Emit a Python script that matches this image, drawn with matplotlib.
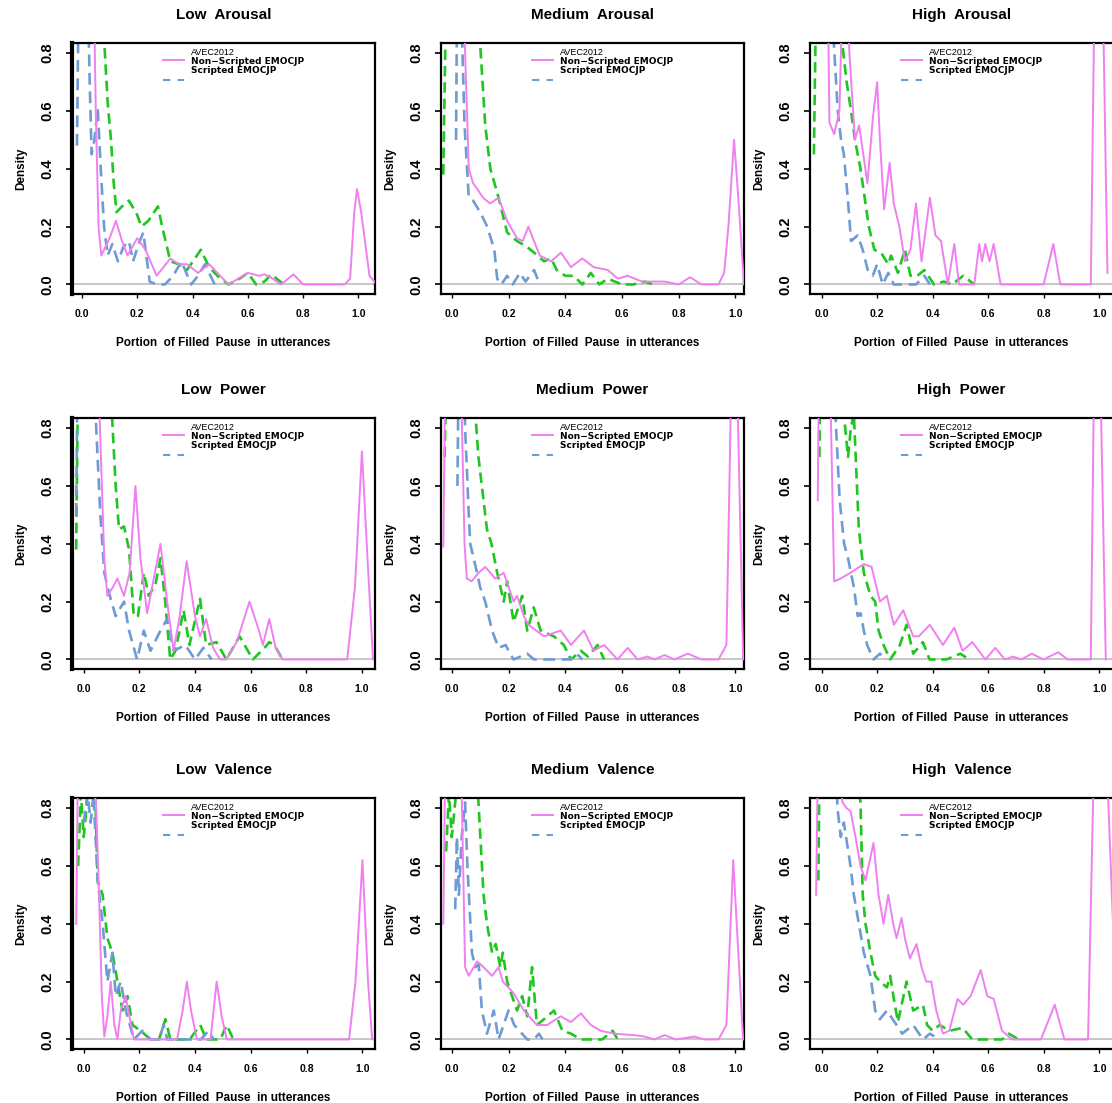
import matplotlib
matplotlib.use('Agg')
import matplotlib.pyplot as plt

plt.rcParams['font.family'] = ['Liberation Sans', 'DejaVu Sans']

titles = ['Low  Arousal', 'Medium  Arousal', 'High  Arousal',
          'Low  Power', 'Medium  Power', 'High  Power',
          'Low  Valence', 'Medium  Valence', 'High  Valence']
series_names = ['AVEC2012', 'Non\u2212Scripted EMOCJP', 'Scripted EMOCJP']
x_label = 'Portion  of Filled  Pause  in utterances'
y_ticks = [0.0, 0.2, 0.4, 0.6, 0.8]
x_ticks = [0.0, 0.2, 0.4, 0.6, 0.8, 1.0]

# ---- Low Arousal
la_avec_x = [-0.04, 0.0, 0.03, 0.04, 0.05, 0.06, 0.07, 0.1, 0.123, 0.145, 0.165, 0.2, 0.23, 0.27, 0.32, 0.35, 0.38,
             0.42, 0.46, 0.5, 0.53, 0.6, 0.64, 0.66, 0.69, 0.72, 0.765, 0.8, 0.9, 0.95, 0.97, 0.985, 0.995, 1.01,
             1.04, 1.066]
la_avec_y = [3.0, 2.6, 1.6, 1.2, 0.6, 0.2, 0.1, 0.16, 0.22, 0.15, 0.1, 0.16, 0.12, 0.03, 0.09, 0.07, 0.07, 0.04,
             0.07, 0.03, 0.0, 0.04, 0.03, 0.035, 0.02, 0.0, 0.035, 0.0, 0.0, 0.0, 0.02, 0.25, 0.33, 0.25, 0.03, 0.0]
la_non_x = [-0.01, 0.02, 0.05, 0.08, 0.093, 0.105, 0.115, 0.125, 0.145, 0.17, 0.2, 0.215, 0.24, 0.275, 0.29, 0.32,
            0.35, 0.38, 0.43, 0.46, 0.49, 0.53, 0.57, 0.6, 0.63, 0.66, 0.685, 0.73]
la_non_y = [1.5, 2.0, 1.5, 0.85, 0.63, 0.5, 0.35, 0.25, 0.27, 0.29, 0.24, 0.2, 0.22, 0.27, 0.2, 0.08, 0.07, 0.05,
            0.12, 0.06, 0.03, 0.0, 0.02, 0.04, 0.0, 0.01, 0.035, 0.0]
la_scr_x = [-0.018, -0.012, 0.0, 0.015, 0.028, 0.035, 0.045, 0.057, 0.068, 0.08, 0.093, 0.11, 0.13, 0.15, 0.17,
            0.185, 0.205, 0.222, 0.245, 0.27, 0.3, 0.33, 0.36, 0.395, 0.42, 0.445, 0.48]
la_scr_y = [0.48, 1.0, 1.6, 1.3, 0.7, 0.45, 0.5, 0.61, 0.4, 0.2, 0.1, 0.14, 0.08, 0.13, 0.15, 0.08, 0.14, 0.18,
            0.01, 0.0, 0.0, 0.03, 0.08, 0.0, 0.03, 0.07, 0.0]

# ---- Medium Arousal
ma_avec_x = [-0.04, 0.0, 0.03, 0.047, 0.06, 0.075, 0.09, 0.11, 0.135, 0.165, 0.195, 0.23, 0.25, 0.27, 0.31, 0.35,
             0.385, 0.42, 0.46, 0.5, 0.55, 0.585, 0.62, 0.67, 0.75, 0.8, 0.84, 0.88, 0.94, 0.96, 0.975, 0.995, 1.01,
             1.03]
ma_avec_y = [3.0, 3.0, 1.5, 0.8, 0.4, 0.35, 0.33, 0.3, 0.28, 0.3, 0.22, 0.16, 0.15, 0.2, 0.1, 0.08, 0.11, 0.06,
             0.09, 0.06, 0.05, 0.02, 0.03, 0.01, 0.01, 0.0, 0.025, 0.0, 0.0, 0.04, 0.2, 0.5, 0.3, 0.0]
ma_non_x = [-0.03, -0.02, 0.0, 0.04, 0.08, 0.1, 0.118, 0.136, 0.165, 0.195, 0.23, 0.265, 0.29, 0.325, 0.35, 0.37,
            0.4, 0.43, 0.46, 0.49, 0.52, 0.55, 0.6, 0.64, 0.68, 0.71]
ma_non_y = [0.38, 1.0, 2.0, 2.0, 1.3, 0.83, 0.55, 0.4, 0.3, 0.18, 0.15, 0.13, 0.11, 0.08, 0.09, 0.05, 0.03, 0.03,
            0.0, 0.04, 0.0, 0.02, 0.0, 0.0, 0.01, 0.0]
ma_scr_x = [0.015, 0.018, 0.025, 0.035, 0.045, 0.06, 0.075, 0.1, 0.125, 0.15, 0.16, 0.175, 0.195, 0.215, 0.24,
            0.26, 0.29, 0.31]
ma_scr_y = [0.5, 0.9, 1.4, 0.9, 0.55, 0.3, 0.29, 0.25, 0.2, 0.12, 0.02, 0.0, 0.03, 0.0, 0.04, 0.01, 0.05, 0.0]

# ---- High Arousal
ha_avec_x = [-0.04, 0.0, 0.02, 0.028, 0.045, 0.064, 0.075, 0.085, 0.1, 0.12, 0.135, 0.15, 0.165, 0.185, 0.2, 0.21,
             0.225, 0.245, 0.26, 0.28, 0.3, 0.32, 0.34, 0.36, 0.39, 0.41, 0.43, 0.455, 0.478, 0.495, 0.55, 0.568,
             0.578, 0.59, 0.605, 0.62, 0.645, 0.8, 0.835, 0.86, 0.97, 0.99, 1.01, 1.03]
ha_avec_y = [3.0, 2.5, 1.2, 0.56, 0.52, 0.6, 1.0, 1.2, 0.8, 0.5, 0.55, 0.45, 0.35, 0.58, 0.7, 0.5, 0.26, 0.42, 0.28,
             0.2, 0.08, 0.12, 0.28, 0.08, 0.3, 0.17, 0.15, 0.0, 0.14, 0.0, 0.0, 0.14, 0.08, 0.14, 0.08, 0.14, 0.0,
             0.0, 0.14, 0.0, 0.0, 1.5, 1.2, 0.04]
ha_non_x = [-0.028, -0.02, 0.0, 0.04, 0.076, 0.09, 0.106, 0.12, 0.14, 0.155, 0.17, 0.19, 0.214, 0.24, 0.25, 0.275,
            0.3, 0.32, 0.345, 0.37, 0.405, 0.44, 0.47, 0.51, 0.55]
ha_non_y = [0.45, 1.0, 2.0, 1.6, 0.82, 0.7, 0.6, 0.5, 0.4, 0.3, 0.2, 0.12, 0.11, 0.07, 0.1, 0.04, 0.12, 0.03, 0.03,
            0.05, 0.0, 0.01, 0.0, 0.03, 0.0]
ha_scr_x = [0.02, 0.035, 0.046, 0.058, 0.07, 0.08, 0.094, 0.106, 0.13, 0.148, 0.166, 0.184, 0.2, 0.22, 0.24, 0.26,
            0.3, 0.34, 0.37, 0.39]
ha_scr_y = [1.5, 1.0, 0.8, 0.6, 0.5, 0.45, 0.3, 0.15, 0.17, 0.12, 0.05, 0.03, 0.07, 0.0, 0.04, 0.0, 0.0, 0.0, 0.03,
            0.0]

# ---- Low Power
lp_avec_x = [-0.04, 0.0, 0.04, 0.055, 0.062, 0.074, 0.085, 0.105, 0.121, 0.145, 0.165, 0.186, 0.204, 0.228, 0.252,
             0.276, 0.3, 0.323, 0.345, 0.37, 0.4, 0.418, 0.44, 0.465, 0.49, 0.513, 0.55, 0.596, 0.63, 0.644, 0.667,
             0.69, 0.715, 0.947, 0.975, 1.0, 1.02, 1.04]
lp_avec_y = [3.0, 2.5, 1.3, 0.9, 0.7, 0.35, 0.22, 0.25, 0.28, 0.22, 0.3, 0.6, 0.35, 0.16, 0.28, 0.4, 0.2, 0.03,
             0.15, 0.34, 0.15, 0.08, 0.14, 0.04, 0.0, 0.0, 0.06, 0.2, 0.1, 0.05, 0.14, 0.04, 0.0, 0.0, 0.25, 0.72,
             0.35, 0.0]
lp_non_x = [-0.027, -0.02, 0.0, 0.05, 0.103, 0.115, 0.127, 0.145, 0.163, 0.18, 0.195, 0.216, 0.234, 0.258, 0.276,
            0.293, 0.311, 0.33, 0.359, 0.38, 0.418, 0.44, 0.477, 0.513, 0.56, 0.608, 0.65, 0.667, 0.685, 0.715]
lp_non_y = [0.38, 1.0, 2.0, 2.0, 0.82, 0.6, 0.45, 0.46, 0.38, 0.15, 0.15, 0.3, 0.22, 0.26, 0.35, 0.2, 0.0, 0.03,
            0.17, 0.05, 0.21, 0.05, 0.06, 0.0, 0.08, 0.0, 0.04, 0.06, 0.05, 0.0]
lp_scr_x = [-0.027, -0.02, 0.0, 0.03, 0.044, 0.06, 0.074, 0.091, 0.115, 0.145, 0.163, 0.192, 0.216, 0.24, 0.276,
            0.3, 0.323, 0.345, 0.365, 0.4, 0.43, 0.46]
lp_scr_y = [0.5, 1.2, 2.0, 1.2, 0.82, 0.5, 0.3, 0.23, 0.15, 0.2, 0.1, 0.0, 0.1, 0.03, 0.1, 0.14, 0.03, 0.04, 0.05,
            0.0, 0.04, 0.0]

# ---- Medium Power
mp_avec_x = [-0.03, -0.02, 0.0, 0.035, 0.045, 0.053, 0.07, 0.095, 0.118, 0.153, 0.183, 0.218, 0.23, 0.254, 0.27,
             0.325, 0.384, 0.42, 0.466, 0.5, 0.537, 0.584, 0.62, 0.655, 0.69, 0.715, 0.75, 0.785, 0.832, 0.88, 0.94,
             0.968, 0.986, 1.005, 1.027]
mp_avec_y = [0.39, 1.2, 2.5, 0.85, 0.4, 0.28, 0.27, 0.3, 0.32, 0.28, 0.3, 0.2, 0.22, 0.15, 0.12, 0.08, 0.1, 0.05,
             0.1, 0.03, 0.05, 0.0, 0.04, 0.0, 0.01, 0.0, 0.015, 0.0, 0.02, 0.0, 0.0, 0.05, 1.0, 1.0, 0.0]
mp_non_x = [-0.025, -0.015, 0.0, 0.04, 0.083, 0.094, 0.106, 0.124, 0.14, 0.16, 0.183, 0.195, 0.218, 0.248, 0.266,
            0.289, 0.313, 0.36, 0.395, 0.42, 0.455, 0.48, 0.514, 0.537]
mp_non_y = [0.7, 1.2, 2.0, 1.8, 0.85, 0.7, 0.6, 0.45, 0.4, 0.3, 0.2, 0.27, 0.13, 0.22, 0.1, 0.18, 0.1, 0.08, 0.05,
            0.0, 0.03, 0.01, 0.05, 0.0]
mp_scr_x = [0.02, 0.024, 0.035, 0.047, 0.06, 0.065, 0.089, 0.1, 0.118, 0.142, 0.165, 0.19, 0.205, 0.218, 0.266,
            0.29, 0.35, 0.42, 0.44, 0.46]
mp_scr_y = [0.6, 1.0, 1.3, 0.8, 0.5, 0.4, 0.3, 0.25, 0.2, 0.1, 0.04, 0.05, 0.02, 0.0, 0.02, 0.0, 0.0, 0.0, 0.02,
            0.0]

# ---- High Power
hp_avec_x = [-0.014, -0.005, 0.01, 0.033, 0.045, 0.069, 0.104, 0.152, 0.18, 0.21, 0.235, 0.26, 0.294, 0.33, 0.35,
             0.39, 0.437, 0.478, 0.508, 0.543, 0.59, 0.626, 0.66, 0.69, 0.72, 0.757, 0.8, 0.852, 0.887, 0.97, 0.982,
             1.0, 1.024]
hp_avec_y = [0.55, 1.5, 2.5, 0.85, 0.27, 0.28, 0.3, 0.33, 0.32, 0.2, 0.22, 0.12, 0.17, 0.08, 0.08, 0.12, 0.05, 0.11,
             0.03, 0.06, 0.0, 0.04, 0.0, 0.01, 0.0, 0.02, 0.0, 0.025, 0.0, 0.0, 1.0, 1.2, 0.0]
hp_non_x = [-0.008, 0.0, 0.03, 0.06, 0.08, 0.095, 0.105, 0.116, 0.134, 0.152, 0.176, 0.193, 0.205, 0.223, 0.247,
            0.282, 0.306, 0.33, 0.365, 0.389, 0.45, 0.5, 0.531]
hp_non_y = [0.7, 1.5, 2.0, 1.5, 0.85, 0.7, 0.8, 0.85, 0.45, 0.3, 0.22, 0.2, 0.1, 0.05, 0.0, 0.05, 0.12, 0.02, 0.06,
            0.0, 0.0, 0.02, 0.0]
hp_scr_x = [0.03, 0.051, 0.065, 0.081, 0.095, 0.116, 0.13, 0.14, 0.152, 0.164, 0.187, 0.21, 0.235]
hp_scr_y = [1.5, 0.82, 0.55, 0.4, 0.35, 0.25, 0.15, 0.16, 0.1, 0.05, 0.0, 0.02, 0.0]

# ---- Low Valence
lv_avec_x = [-0.027, -0.02, -0.01, 0.01, 0.03, 0.044, 0.055, 0.065, 0.074, 0.085, 0.097, 0.11, 0.121, 0.133, 0.15,
             0.18, 0.335, 0.355, 0.37, 0.385, 0.406, 0.455, 0.477, 0.495, 0.513, 0.952, 0.975, 1.0, 1.02, 1.035]
lv_avec_y = [0.4, 1.0, 1.5, 1.0, 0.9, 0.82, 0.5, 0.15, 0.01, 0.08, 0.2, 0.05, 0.0, 0.1, 0.15, 0.0, 0.0, 0.1, 0.2,
             0.1, 0.0, 0.0, 0.2, 0.08, 0.0, 0.0, 0.2, 0.62, 0.2, 0.0]
lv_non_x = [-0.02, -0.01, 0.0, 0.01, 0.025, 0.04, 0.05, 0.068, 0.085, 0.103, 0.121, 0.139, 0.157, 0.175, 0.204,
            0.24, 0.27, 0.293, 0.311, 0.38, 0.418, 0.44, 0.49, 0.513, 0.537]
lv_non_y = [0.6, 0.85, 0.7, 0.8, 1.0, 0.9, 0.55, 0.5, 0.35, 0.3, 0.2, 0.1, 0.15, 0.05, 0.03, 0.0, 0.0, 0.07, 0.0,
            0.0, 0.05, 0.0, 0.0, 0.05, 0.0]
lv_scr_x = [0.0, 0.014, 0.025, 0.035, 0.05, 0.068, 0.085, 0.103, 0.115, 0.133, 0.151, 0.18, 0.21, 0.24, 0.27, 0.287,
            0.3, 0.42, 0.448, 0.466]
lv_scr_y = [0.75, 0.85, 0.75, 0.85, 0.55, 0.4, 0.2, 0.3, 0.15, 0.2, 0.1, 0.0, 0.03, 0.0, 0.0, 0.05, 0.0, 0.0, 0.03,
            0.0]

# ---- Medium Valence
mv_avec_x = [-0.03, -0.02, 0.0, 0.035, 0.047, 0.06, 0.089, 0.112, 0.142, 0.165, 0.18, 0.218, 0.254, 0.3, 0.336,
             0.384, 0.42, 0.455, 0.49, 0.525, 0.573, 0.643, 0.68, 0.714, 0.75, 0.79, 0.856, 0.89, 0.94, 0.968, 0.992,
             1.01, 1.027]
mv_avec_y = [0.4, 1.2, 2.5, 0.85, 0.25, 0.22, 0.27, 0.25, 0.22, 0.25, 0.2, 0.16, 0.1, 0.05, 0.05, 0.08, 0.06, 0.09,
             0.05, 0.03, 0.02, 0.015, 0.01, 0.0, 0.015, 0.0, 0.01, 0.0, 0.0, 0.05, 0.62, 0.3, 0.0]
mv_non_x = [-0.02, -0.01, 0.0, 0.015, 0.03, 0.06, 0.094, 0.112, 0.124, 0.142, 0.155, 0.171, 0.18, 0.195, 0.23,
            0.248, 0.266, 0.283, 0.3, 0.325, 0.36, 0.39, 0.42, 0.455, 0.53, 0.567, 0.585]
mv_non_y = [0.65, 0.85, 0.7, 0.85, 1.2, 1.5, 0.82, 0.5, 0.4, 0.3, 0.33, 0.25, 0.3, 0.2, 0.1, 0.15, 0.08, 0.25, 0.05,
            0.07, 0.1, 0.03, 0.02, 0.0, 0.0, 0.03, 0.0]
mv_scr_x = [0.012, 0.018, 0.025, 0.035, 0.047, 0.055, 0.071, 0.083, 0.095, 0.106, 0.124, 0.148, 0.165, 0.2, 0.22,
            0.266, 0.29, 0.307, 0.32]
mv_scr_y = [0.45, 0.7, 0.5, 0.7, 0.82, 0.6, 0.3, 0.25, 0.26, 0.1, 0.02, 0.1, 0.0, 0.1, 0.05, 0.0, 0.0, 0.02, 0.0]

# ---- High Valence
hv_avec_x = [-0.02, -0.01, 0.0, 0.05, 0.075, 0.09, 0.104, 0.122, 0.14, 0.158, 0.187, 0.205, 0.223, 0.24, 0.258,
             0.27, 0.288, 0.3, 0.318, 0.342, 0.36, 0.377, 0.395, 0.413, 0.437, 0.46, 0.49, 0.51, 0.537, 0.573, 0.597,
             0.62, 0.65, 0.686, 0.79, 0.84, 0.875, 0.96, 0.982, 1.0, 1.03, 1.05]
hv_avec_y = [0.5, 1.2, 1.5, 1.0, 0.82, 0.8, 0.79, 0.7, 0.6, 0.55, 0.68, 0.5, 0.4, 0.5, 0.4, 0.35, 0.42, 0.35, 0.28,
             0.33, 0.25, 0.2, 0.2, 0.1, 0.02, 0.03, 0.14, 0.12, 0.15, 0.24, 0.15, 0.14, 0.03, 0.0, 0.0, 0.12, 0.0,
             0.0, 1.0, 1.5, 0.9, 0.4]
hv_non_x = [-0.012, -0.005, 0.02, 0.06, 0.1, 0.14, 0.148, 0.158, 0.176, 0.193, 0.211, 0.235, 0.247, 0.262, 0.275,
            0.306, 0.33, 0.365, 0.38, 0.4, 0.425, 0.46, 0.508, 0.543, 0.65, 0.674, 0.71]
hv_non_y = [0.55, 1.2, 2.0, 1.8, 1.1, 0.82, 0.5, 0.4, 0.3, 0.22, 0.2, 0.18, 0.22, 0.13, 0.06, 0.2, 0.1, 0.12, 0.05,
            0.03, 0.05, 0.03, 0.04, 0.0, 0.0, 0.02, 0.0]
hv_scr_x = [0.04, 0.057, 0.069, 0.08, 0.104, 0.116, 0.134, 0.152, 0.176, 0.193, 0.21, 0.235, 0.27, 0.29, 0.33,
            0.365, 0.39, 0.425]
hv_scr_y = [1.3, 0.8, 0.7, 0.75, 0.6, 0.5, 0.4, 0.3, 0.22, 0.1, 0.07, 0.1, 0.05, 0.02, 0.05, 0.0, 0.02, 0.0]

panels = [
    (la_avec_x, la_avec_y, la_non_x, la_non_y, la_scr_x, la_scr_y),
    (ma_avec_x, ma_avec_y, ma_non_x, ma_non_y, ma_scr_x, ma_scr_y),
    (ha_avec_x, ha_avec_y, ha_non_x, ha_non_y, ha_scr_x, ha_scr_y),
    (lp_avec_x, lp_avec_y, lp_non_x, lp_non_y, lp_scr_x, lp_scr_y),
    (mp_avec_x, mp_avec_y, mp_non_x, mp_non_y, mp_scr_x, mp_scr_y),
    (hp_avec_x, hp_avec_y, hp_non_x, hp_non_y, hp_scr_x, hp_scr_y),
    (lv_avec_x, lv_avec_y, lv_non_x, lv_non_y, lv_scr_x, lv_scr_y),
    (mv_avec_x, mv_avec_y, mv_non_x, mv_non_y, mv_scr_x, mv_scr_y),
    (hv_avec_x, hv_avec_y, hv_non_x, hv_non_y, hv_scr_x, hv_scr_y),
]

x_limits = [(-0.036, 1.06), (-0.038, 1.03), (-0.042, 1.05),
            (-0.042, 1.047), (-0.038, 1.03), (-0.042, 1.05),
            (-0.042, 1.045), (-0.038, 1.03), (-0.042, 1.05)]

PINK = '#f07ff0'
GREEN = '#1fc61f'
BLUE = '#6f9bd4'

W, H = 1112, 1103
fig = plt.figure(figsize=(W / 100, H / 100), dpi=100)

col_left = [72, 441, 810]
row_top = [43, 418, 798]
aw, ah = 303, 251

for i in range(9):
    r, c = divmod(i, 3)
    ax = fig.add_axes([col_left[c] / W, 1 - (row_top[r] + ah) / H, aw / W, ah / H])
    ax_, ay_, nx_, ny_, sx_, sy_ = panels[i]

    ax.axhline(0, color='#bdbdbd', lw=1.2, zorder=1)
    ax.plot(ax_, ay_, color=PINK, lw=1.4, zorder=3)
    ax.plot(nx_, ny_, color=GREEN, lw=1.9, dashes=(4, 2.2), zorder=2)
    ax.plot(sx_, sy_, color=BLUE, lw=1.9, dashes=(4.5, 2.5), zorder=2)

    ax.set_xlim(*x_limits[i])
    ax.set_ylim(-0.033, 0.835)
    ax.set_yticks(y_ticks)
    ax.set_yticklabels(['%.1f' % v for v in y_ticks], rotation=90, va='center',
                       fontsize=10.5, fontweight='bold')
    ax.set_xticks(x_ticks)
    ax.set_xticklabels(['%.1f' % v for v in x_ticks], fontsize=7.5, fontweight='bold')
    ax.tick_params(axis='y', direction='out', length=4, width=1.2, pad=9)
    ax.tick_params(axis='x', direction='out', length=3, width=1.0, pad=8)

    for sp in ax.spines.values():
        sp.set_linewidth(1.6)
    if c == 0:
        ax.spines['left'].set_linewidth(3)

    ax.set_title(titles[i], fontsize=11, fontweight='bold', pad=17)
    ax.set_xlabel(x_label, fontsize=8.5, fontweight='bold')
    ax.xaxis.set_label_coords(0.5, -0.17)
    ax.set_ylabel('Density', fontsize=8.5, fontweight='bold')
    ax.yaxis.set_label_coords(-0.148, 0.5)

    # legend drawn by hand, as in the original
    ax.plot([0.30, 0.37], [0.934, 0.934], transform=ax.transAxes, color=PINK, lw=1.4, clip_on=False)
    ax.plot([0.30, 0.37], [0.852, 0.852], transform=ax.transAxes, color=BLUE, lw=1.5,
            dashes=(3.5, 3.5), clip_on=False)
    ax.text(0.392, 0.962, series_names[0], transform=ax.transAxes, fontsize=6.5, va='center')
    ax.text(0.392, 0.926, series_names[1], transform=ax.transAxes, fontsize=6.5, va='center',
            fontweight='bold', family='DejaVu Sans')
    ax.text(0.392, 0.892, series_names[2], transform=ax.transAxes, fontsize=6.5, va='center',
            fontweight='bold', family='DejaVu Sans')

fig.savefig('out.png', dpi=100)
